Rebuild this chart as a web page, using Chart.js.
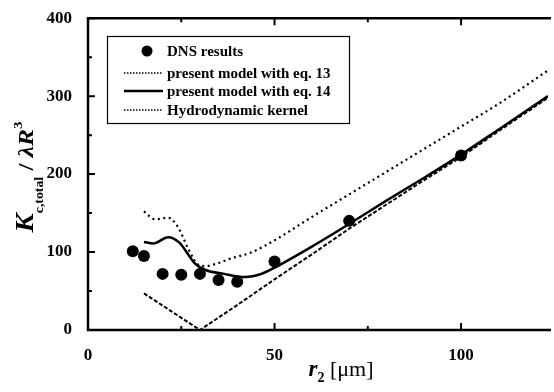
<!DOCTYPE html>
<html>
<head>
<meta charset="utf-8">
<script src="https://cdn.jsdelivr.net/npm/chart.js@4"></script>
<style>
  html, body { margin: 0; padding: 0; background: #fff; overflow: hidden; }
  canvas { display: block; }
</style>
</head>
<body>
<canvas id="myChart" width="554" height="392"></canvas>
<script>
// DNS results (filled circles)
const dnsR = [12, 15, 20, 25, 30, 35, 40, 50, 70, 100]
const dnsK = [101, 95, 72, 71, 72, 64, 62, 88, 140, 224]

// present model with eq. 13 (dotted)
const eq13R = [15, 18, 21.5, 24, 27, 29.5, 31.5, 35, 38.5, 43.5, 50, 60, 70, 80, 90, 100, 110, 123.3]
const eq13K = [152, 142, 144, 133, 103, 84, 82, 86, 92, 99, 115, 145, 174, 203, 232, 261, 290, 333]

// present model with eq. 14 (solid)
const eq14R = [15, 17.5, 21.5, 24.5, 27, 28.5, 31.5, 36.5, 42, 46.5, 50, 60, 70, 80, 90, 100, 110, 123.3]
const eq14K = [113, 111, 119, 112, 96, 86, 77, 72, 68, 72, 80, 107, 136, 166, 195, 225, 257, 300]

// Hydrodynamic kernel (dashed)
const hydroR = [15, 30, 40, 50, 60, 70, 80, 90, 100, 110, 123.3]
const hydroK = [47, 0, 32, 65, 97, 130, 161, 192, 222, 255, 298]

const xTicks = [0, 50, 100]
const yTicks = [0, 100, 200, 300, 400]

const legendItems = [
  { label: 'DNS results', kind: 'point' },
  { label: 'present model with eq. 13', kind: 'dot' },
  { label: 'present model with eq. 14', kind: 'solid' },
  { label: 'Hydrodynamic kernel', kind: 'dash' },
]

const serif = "'Liberation Serif', 'Times New Roman', serif"

function pts(xs, ys) {
  return xs.map((v, i) => ({ x: v, y: ys[i] }))
}

// draw a run of text pieces with their own fonts and baseline shifts, centred on x
function drawRich(ctx, parts, x, y) {
  let total = 0
  parts.forEach((p) => {
    ctx.font = p.font
    p.w = ctx.measureText(p.text).width
    total += p.w
  })
  let cx = x - total / 2
  ctx.textAlign = 'left'
  ctx.textBaseline = 'alphabetic'
  parts.forEach((p) => {
    ctx.font = p.font
    ctx.fillText(p.text, cx, y + (p.dy || 0))
    cx += p.w
  })
}

const framePlugin = {
  id: 'frame',
  afterDraw(chart) {
    const { ctx, chartArea: a, scales } = chart
    const x = scales.x
    const y = scales.y
    ctx.save()
    ctx.strokeStyle = '#000'
    ctx.fillStyle = '#000'

    // axes box (right side is off the picture)
    ctx.lineWidth = 2.5
    ctx.beginPath()
    ctx.moveTo(a.right + 3, a.top)
    ctx.lineTo(a.left, a.top)
    ctx.lineTo(a.left, a.bottom)
    ctx.lineTo(a.right + 3, a.bottom)
    ctx.stroke()

    // inward tick marks
    ctx.lineWidth = 2
    ctx.beginPath()
    for (let v = 0; v <= 400; v += 50) {
      const py = y.getPixelForValue(v)
      const len = v % 100 === 0 ? 7 : 4
      ctx.moveTo(a.left, py)
      ctx.lineTo(a.left + len, py)
    }
    for (let v = 0; v <= x.max; v += 25) {
      const px = x.getPixelForValue(v)
      const len = v % 50 === 0 ? 7 : 4
      ctx.moveTo(px, a.bottom)
      ctx.lineTo(px, a.bottom - len)
      ctx.moveTo(px, a.top)
      ctx.lineTo(px, a.top + len)
    }
    ctx.stroke()

    // y title, rotated
    ctx.save()
    ctx.translate(33, 177)
    ctx.rotate(-Math.PI / 2)
    ctx.scale(1.15, 1)
    drawRich(ctx, [
      { text: 'K', font: `italic bold 25px ${serif}` },
      { text: 'c,total', font: `bold 12px ${serif}`, dy: 10 },
      { text: ' / ', font: `bold 22px ${serif}` },
      { text: 'λR', font: `italic bold 22px ${serif}` },
      { text: '3', font: `bold 13px ${serif}`, dy: -11 },
    ], 0, 0)
    ctx.restore()

    // x title
    drawRich(ctx, [
      { text: 'r', font: `italic bold 23px ${serif}` },
      { text: '2', font: `bold 14px ${serif}`, dy: 6 },
      { text: ' [μm]', font: `22px ${serif}` },
    ], 341, 376)

    // legend box
    const box = { l: 107.5, t: 36.5, r: 349.5, b: 123.5 }
    ctx.lineWidth = 1.2
    ctx.strokeRect(box.l, box.t, box.r - box.l, box.b - box.t)
    const rows = [51, 73, 91, 110]
    ctx.font = `bold 15px ${serif}`
    ctx.textBaseline = 'middle'
    ctx.textAlign = 'left'
    legendItems.forEach((item, i) => {
      const ry = rows[i]
      ctx.save()
      if (item.kind === 'point') {
        ctx.beginPath()
        ctx.arc(147, ry, 5.5, 0, Math.PI * 2)
        ctx.fill()
      } else {
        ctx.beginPath()
        ctx.lineWidth = item.kind === 'solid' ? 2.5 : 1.5
        ctx.setLineDash(item.kind === 'solid' ? [] : [1.5, 1.5])
        ctx.moveTo(124, ry)
        ctx.lineTo(163, ry)
        ctx.stroke()
      }
      ctx.restore()
      ctx.fillText(item.label, 167, ry + 1)
    })
    ctx.restore()
  },
}

const tickFont = { family: serif, size: 17, weight: 'bold' }

const ctx = document.getElementById('myChart').getContext('2d')
new Chart(ctx, {
  type: 'scatter',
  data: {
    datasets: [
      {
        label: 'DNS results',
        data: pts(dnsR, dnsK),
        pointRadius: 6,
        pointBackgroundColor: '#000',
        pointBorderColor: '#000',
        borderWidth: 0,
        showLine: false,
      },
      {
        label: 'present model with eq. 13',
        data: pts(eq13R, eq13K),
        showLine: true,
        borderColor: '#000',
        borderWidth: 2.2,
        borderDash: [2, 3.5],
        pointRadius: 0,
        cubicInterpolationMode: 'monotone',
      },
      {
        label: 'present model with eq. 14',
        data: pts(eq14R, eq14K),
        showLine: true,
        borderColor: '#000',
        borderWidth: 2.5,
        pointRadius: 0,
        cubicInterpolationMode: 'monotone',
      },
      {
        label: 'Hydrodynamic kernel',
        data: pts(hydroR, hydroK),
        showLine: true,
        borderColor: '#000',
        borderWidth: 2,
        borderDash: [4, 2],
        pointRadius: 0,
        tension: 0,
      },
    ],
  },
  options: {
    responsive: false,
    animation: false,
    layout: { padding: { top: 18, right: 0, left: 0, bottom: 0 } },
    plugins: {
      legend: { display: false },
      tooltip: { enabled: false },
    },
    scales: {
      x: {
        type: 'linear',
        min: 0,
        max: 123.3,
        afterFit: (s) => { s.height = 62 },
        grid: { display: false },
        border: { display: false },
        ticks: {
          stepSize: 50,
          includeBounds: false,
          padding: 7,
          color: '#000',
          font: tickFont,
          maxRotation: 0,
          callback: (v) => (xTicks.includes(v) ? v : ''),
        },
      },
      y: {
        min: 0,
        max: 400,
        afterFit: (s) => { s.width = 88 },
        grid: { display: false },
        border: { display: false },
        ticks: {
          stepSize: 100,
          padding: 8,
          color: '#000',
          font: tickFont,
          callback: (v) => (yTicks.includes(v) ? v : ''),
        },
      },
    },
  },
  plugins: [framePlugin],
})
</script>
</body>
</html>
